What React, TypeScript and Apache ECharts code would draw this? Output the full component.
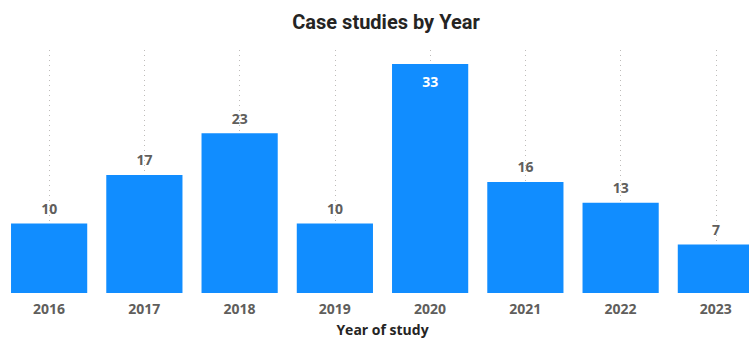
import React, { useEffect, useRef } from "react";
import * as echarts from "echarts";

const years = ["2016", "2017", "2018", "2019", "2020", "2021", "2022", "2023"];
const caseCounts = [10, 17, 23, 10, 33, 16, 13, 7];
const insideLabelYears = ["2020"];

export default function App() {
  const ref = useRef<HTMLDivElement>(null);
  useEffect(() => {
    if (!ref.current) return;
    const chart = echarts.init(ref.current, undefined, { renderer: "svg" });
    chart.setOption({
      animation: false,
      backgroundColor: "#ffffff",
      title: {
        text: "Case studies by Year",
        left: 381,
        textAlign: "center",
        top: 7,
        textStyle: { fontFamily: "Roboto", fontWeight: "bold", fontSize: 20, color: "#252423" },
      },
      grid: { left: 1.5, width: 762, top: 50, bottom: 50, containLabel: false, outerBoundsMode: "none" },
      xAxis: {
        type: "category",
        data: years,
        axisLine: { show: false },
        axisTick: { show: false },
        axisLabel: {
          margin: 8,
          fontFamily: "Open Sans",
          fontWeight: "bold",
          fontSize: 14,
          color: "#605E5C",
        },
        splitLine: {
          show: true,
          alignWithLabel: true,
          lineStyle: { color: "#BEBCBA", type: [1, 4], width: 1 },
        },
        name: "Year of study",
        nameLocation: "middle",
        nameGap: 29,
        nameTextStyle: { fontFamily: "Open Sans", fontWeight: "bold", fontSize: 14, color: "#252423" },
      },
      yAxis: {
        type: "value",
        min: 0,
        max: 35,
        show: false,
        splitLine: { show: false },
      },
      series: [
        {
          type: "bar",
          barCategoryGap: "20%",
          data: caseCounts.map((v, i) => {
            const inside = insideLabelYears.includes(years[i]);
            return {
              value: v,
              label: inside
                ? { position: "insideTop", distance: 11, color: "#ffffff" }
                : { position: "top", distance: 8, color: "#605E5C" },
            };
          }),
          itemStyle: { color: "#118DFF" },
          label: {
            show: true,
            fontFamily: "Open Sans",
            fontWeight: "bold",
            fontSize: 14,
          },
        },
      ],
    });
    return () => chart.dispose();
  }, []);
  return <div ref={ref} style={{ position: "fixed", left: 0, top: 0, width: 749, height: 343 }} />;
}
